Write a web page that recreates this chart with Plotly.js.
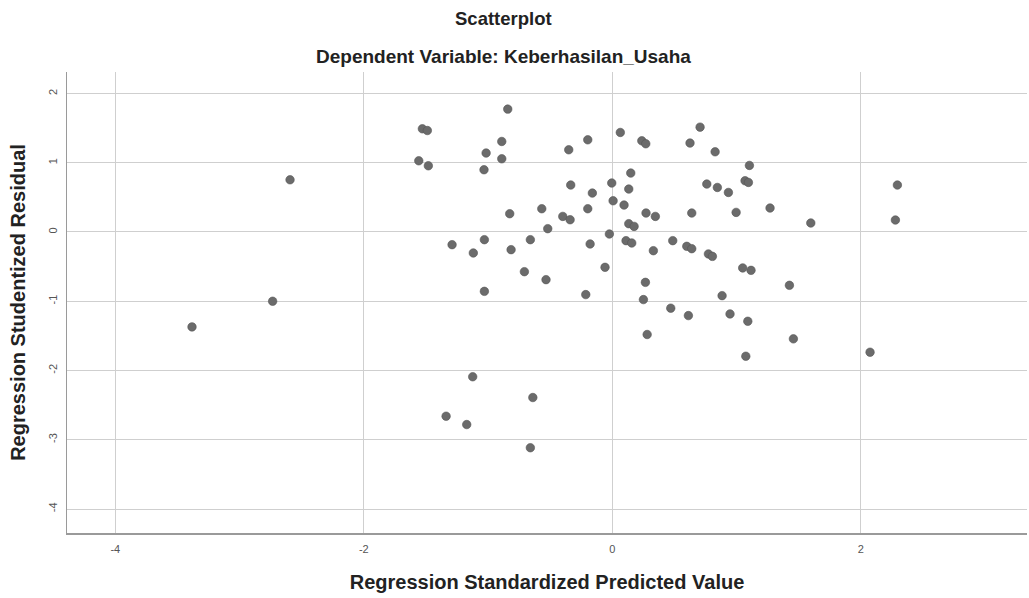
<!DOCTYPE html>
<html>
<head>
<meta charset="utf-8">
<script src="https://cdn.plot.ly/plotly-3.0.1.min.js"></script>
<style>html,body{margin:0;padding:0;background:#fff;}#chart{width:1029px;height:598px;}</style>
</head>
<body>
<div id="chart"></div>
<script>
const predicted = [
  -3.383, -2.734, -2.594, -1.529, -1.489, -1.558, -1.481, -0.842, -0.890, -1.016,
  -0.890, -1.033, -0.351, -0.198, 0.064, 0.237, 0.269, 0.625, 0.706, 0.827,
  1.103, 0.148, -0.005, 0.132, -0.335, -0.161, 0.006, 0.094, -0.198, -0.568,
  -0.826, -0.399, -0.340, 0.271, 0.346, 0.132, 0.175, -0.520, -0.024, 0.639,
  0.760, 0.845, 0.934, 1.068, 1.095, 0.996, 1.269, 1.597, 2.294, 2.278,
  -1.030, -1.290, -0.660, -1.119, -0.815, -0.179, 0.110, 0.156, 0.486, 0.599,
  0.639, 0.330, 0.773, 0.805, -0.708, -0.534, -0.059, 1.049, 1.116, 1.425,
  -1.030, -0.214, 0.266, 0.250, 0.470, 0.883, 0.612, 0.947, 1.090, 0.280,
  1.457, 1.074, 2.074, -1.124, -0.640, -1.338, -1.172, -0.660
];
const residual = [
  -1.370, -1.000, 0.754, 1.490, 1.465, 1.028, 0.956, 1.774, 1.307, 1.140,
  1.057, 0.899, 1.187, 1.331, 1.437, 1.317, 1.274, 1.284, 1.514, 1.158,
  0.961, 0.851, 0.707, 0.620, 0.678, 0.562, 0.451, 0.389, 0.336, 0.336,
  0.264, 0.225, 0.177, 0.274, 0.225, 0.120, 0.081, 0.048, -0.029, 0.274,
  0.692, 0.643, 0.571, 0.740, 0.716, 0.283, 0.346, 0.130, 0.678, 0.173,
  -0.111, -0.183, -0.111, -0.303, -0.255, -0.173, -0.125, -0.159, -0.125, -0.207,
  -0.241, -0.270, -0.317, -0.352, -0.573, -0.688, -0.510, -0.519, -0.554, -0.770,
  -0.857, -0.904, -0.727, -0.976, -1.100, -0.919, -1.207, -1.183, -1.289, -1.480,
  -1.543, -1.794, -1.736, -2.090, -2.390, -2.660, -2.780, -3.115
];
const xTicks = [-4, -2, 0, 2];
const yTicks = [-4, -3, -2, -1, 0, 1, 2];

const trace = {
  type: 'scatter',
  mode: 'markers',
  x: predicted,
  y: residual,
  marker: {size: 8.5, color: '#6b6b6b', line: {width: 0.6, color: '#555555'}},
  hoverinfo: 'x+y'
};

const layout = {
  width: 1029,
  height: 598,
  margin: {l: 67, r: 2, t: 72, b: 65},
  paper_bgcolor: '#ffffff',
  plot_bgcolor: '#ffffff',
  showlegend: false,
  font: {family: 'Liberation Sans, Arial, sans-serif', color: '#222'},
  xaxis: {
    range: [-4.389, 3.337],
    tickvals: xTicks,
    ticktext: xTicks.map(String),
    ticks: '',
    showgrid: true,
    gridcolor: '#cfcfcf',
    gridwidth: 1,
    zeroline: false,
    showline: true,
    linecolor: '#9a9a9a',
    linewidth: 1.5,
    tickfont: {size: 11, color: '#555'},
    ticklabelstandoff: 5,
    automargin: false,
    title: {text: 'Regression Standardized Predicted Value', font: {size: 20, color: '#222', weight: 'bold'}, standoff: 21}
  },
  yaxis: {
    range: [-4.346, 2.31],
    tickvals: yTicks,
    ticktext: yTicks.map(String),
    ticks: '',
    tickangle: -90,
    showgrid: true,
    gridcolor: '#cfcfcf',
    gridwidth: 1,
    zeroline: false,
    showline: true,
    linecolor: '#9a9a9a',
    linewidth: 1.5,
    tickfont: {size: 11, color: '#555'},
    ticklabelstandoff: 4,
    automargin: false,
    title: {text: 'Regression Studentized Residual', font: {size: 20, color: '#222', weight: 'bold'}, standoff: 16}
  },
  annotations: [
    {text: 'Scatterplot', xref: 'paper', yref: 'paper', x: (503 - 67) / 960, y: (533 - 18) / 461,
     xanchor: 'center', yanchor: 'middle', showarrow: false, font: {size: 18.5, color: '#222', weight: 'bold'}},
    {text: 'Dependent Variable: Keberhasilan_Usaha', xref: 'paper', yref: 'paper', x: (503 - 67) / 960, y: (533 - 57) / 461,
     xanchor: 'center', yanchor: 'middle', showarrow: false, font: {size: 19, color: '#222', weight: 'bold'}}
  ]
};

Plotly.newPlot('chart', [trace], layout, {displayModeBar: false, responsive: false, staticPlot: true});
</script>
</body>
</html>
